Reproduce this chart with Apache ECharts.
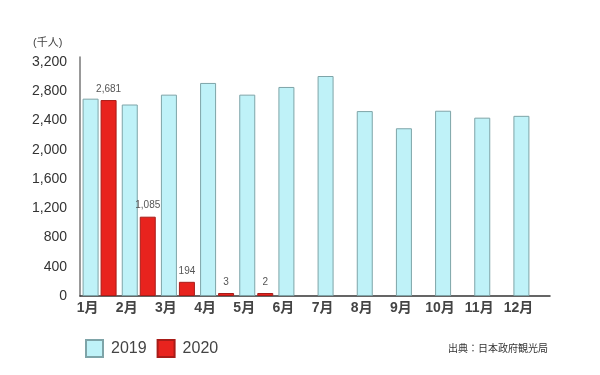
<!DOCTYPE html>
<html>
<head>
<meta charset="utf-8">
<script src="https://cdn.jsdelivr.net/npm/echarts@6/dist/echarts.min.js"></script>
<style>html,body{margin:0;padding:0;background:#fff;}#c{width:600px;height:375px;}</style>
</head>
<body>
<div id="c"></div>
<script>
const categories = ['1月','2月','3月','4月','5月','6月','7月','8月','9月','10月','11月','12月'];
const values2019 = [2700, 2620, 2755, 2915, 2755, 2860, 3010, 2530, 2295, 2535, 2440, 2465];
const values2020 = [2681, 1085, 194, 3, 2, null, null, null, null, null, null, null];
const yTicks = [0, 400, 800, 1200, 1600, 2000, 2400, 2800, 3200];
const seriesNames = ['2019', '2020'];
const unitLabel = '(千人)';
const sourceLabel = '出典：日本政府観光局';

const FONT = "'Liberation Sans', 'Noto Sans CJK JP', sans-serif";
const chart = echarts.init(document.getElementById('c'), null, {renderer: 'canvas'});
chart.setOption({
  animation: false,
  backgroundColor: '#ffffff',
  textStyle: {fontFamily: FONT},
  grid: {left: 80, right: 50, top: 57, bottom: 79},
  legend: {
    left: 80, top: 334,
    itemWidth: 17, itemHeight: 17, itemGap: 10,
    icon: 'rect',
    textStyle: {fontSize: 16, color: '#444', fontFamily: FONT, padding: [0, 0, 0, 3]},
    data: seriesNames
  },
  xAxis: {
    type: 'category',
    data: categories,
    axisLine: {lineStyle: {color: '#333', width: 1.5}},
    axisTick: {show: false},
    axisLabel: {fontSize: 14, color: '#444', fontWeight: 'bold', margin: 5, padding: [0, 24, 0, 0], fontFamily: FONT}
  },
  yAxis: {
    type: 'value',
    min: 0, max: 3270, interval: 400,
    splitLine: {show: false},
    axisLine: {show: true, lineStyle: {color: '#777', width: 1.5}},
    axisTick: {show: false},
    axisLabel: {
      fontSize: 14, color: '#333', margin: 13, fontFamily: FONT,
      formatter: v => yTicks.indexOf(v) >= 0 ? v.toLocaleString('en-US') : ''
    }
  },
  series: [
    {
      name: seriesNames[0], type: 'bar', data: values2019,
      barWidth: 16, barGap: '12.5%',
      itemStyle: {color: '#bff2f8', borderColor: '#7ea4a8', borderWidth: 1}
    },
    {
      name: seriesNames[1], type: 'bar', data: values2020,
      barWidth: 16, barMinHeight: 3,
      itemStyle: {color: '#e8231e', borderColor: '#a81c18', borderWidth: 1},
      label: {
        show: true, position: 'top', distance: 6,
        fontSize: 10, color: '#555', fontFamily: FONT,
        formatter: p => p.value == null ? '' : Number(p.value).toLocaleString('en-US')
      }
    }
  ],
  graphic: [
    {type: 'text', left: 33, top: 37, style: {text: unitLabel, fontSize: 11, fill: '#444', fontFamily: FONT}},
    {type: 'text', right: 52, top: 344, style: {text: sourceLabel, fontSize: 10, fill: '#333', fontFamily: FONT}}
  ]
});
</script>
</body>
</html>
